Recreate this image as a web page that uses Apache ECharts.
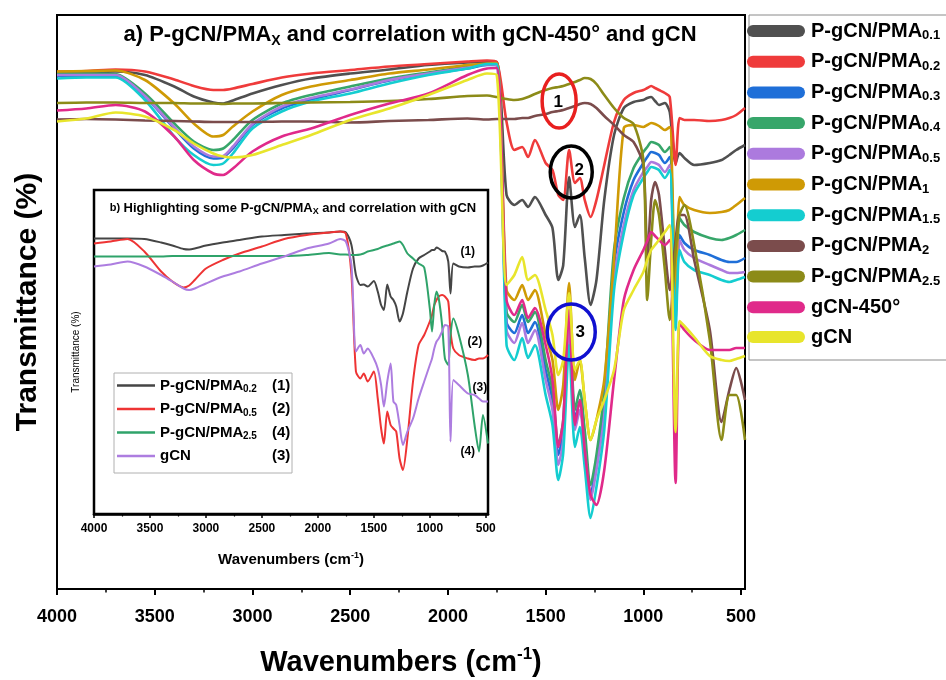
<!DOCTYPE html>
<html>
<head>
<meta charset="utf-8">
<script src="https://cdn.jsdelivr.net/npm/echarts@6/dist/echarts.min.js"></script>
<style>
html, body { margin: 0; padding: 0; background: #fff; }
#chart { width: 946px; height: 680px; }
</style>
</head>
<body>
<div id="chart"></div>
<script>
// Shared wavenumber grid (cm-1), high to low
const wavenumbers = [4000,3850,3700,3550,3400,3300,3200,3150,3100,3000,2850,2700,2500,2300,2100,1900,1800,
  1750,1700,1660,1620,1590,1555,1500,1465,1435,1410,1380,1350,1325,1300,1270,1240,1200,1150,1100,1050,
  1000,980,960,940,920,890,865,835,815,790,740,660,600,560,525,480];

// Main panel: transmittance (arbitrary offset units)
const pma01 = [103.1,103.3,103.5,102.8,100.5,98.5,97.3,97.1,97.7,99.1,100.8,102.1,103.1,103.9,104.8,105.3,105.4,
  105.4,78.8,76.8,77.8,76.4,78.4,74.8,72.2,61.8,64.8,82.4,72.4,74.8,66.2,56.8,61.8,77.8,90.8,96.2,97.4,
  97.8,98.2,98.4,97.6,96.8,97.2,95.4,85.2,87.2,86.2,84.8,85.2,85.8,86.8,87.8,88.8];
const pma02 = [103.5,103.6,103.9,103.5,101.9,100.6,99.8,99.8,100.1,101,102.3,103.1,103.8,104.5,105,105.5,105.7,
  105.4,93.4,87.8,88.4,86.4,89.8,85.2,83.8,78.8,77.8,87.8,81.2,82.2,77.8,74.4,77.8,84.8,93.4,97.8,99.2,
  99.8,100.2,100.6,100.2,99.8,99.2,98.4,84.8,94.2,93.8,93.8,93.6,93.8,94.2,94.8,96.2];
const pma03 = [102.6,102.6,102.6,98.5,92.1,88.1,86.1,86.3,88.1,92.8,96.1,97.9,99.8,101.7,103,104.1,104.8,
  104.8,53.4,51.2,54.8,51.2,53.4,43.8,37.8,26.8,31.8,53.4,33.8,37.8,29.8,18.8,25.4,37.8,64.8,75.4,81.8,
  85.2,86.4,87.4,87.2,86.8,85.2,86.4,54.8,70.8,69.2,67.8,66.8,65.8,65.4,65.4,66.2];
const pma04 = [103.1,103.1,103,99.1,93.1,89.5,87.8,88.1,89.8,93.8,97.1,98.8,100.5,102.1,103.3,104.5,105,
  105,55.4,53.4,56.8,53.4,55.4,45.8,39.8,28.8,33.8,55.4,35.8,39.8,31.8,20.8,26.8,39.8,67.8,78.2,84.2,
  87.4,88.4,89.4,89.2,88.8,87.4,88.4,56.8,74.2,72.8,71.4,70.2,69.8,70.2,70.8,71.8];
const pma05 = [102.8,102.8,102.8,98.6,92.3,88.5,86.5,86.6,88.5,93,96.5,98.2,99.9,101.8,103.1,104.3,104.9,
  104.8,51.8,49.2,53.2,49.2,51.8,41.8,35.8,24.8,29.8,51.8,31.8,35.8,27.8,17.8,23.8,34.8,61.8,72.8,79.8,
  83.4,84.4,85.4,85.2,84.8,83.4,84.8,53.8,69.8,67.8,66.2,64.8,63.8,63.2,63.2,63.4];
const pma1 = [103.5,103.6,103.7,101.8,97.1,93.1,90.5,90.8,92.5,95.5,98.8,100.5,101.8,103.1,103.9,104.8,105.1,
  105.2,59.8,57.8,60.8,57.8,59.8,50.8,45.8,35.8,40.8,61.2,41.8,45.8,37.8,29.8,33.8,41.8,65.8,92.2,92.8,
  92.4,92.8,93.2,93,92.6,91.8,92.4,57.8,78.4,76.8,75.8,75.2,75.4,75.8,76.8,78.2];
const pma15 = [102.1,102.3,102.3,97.8,90.5,86.8,84.8,85.1,87.1,92.1,95.5,97.5,99.1,101.1,102.8,104.1,105,
  105,48.8,45.8,50.2,46.2,48.8,38.8,32.8,21.8,27.2,48.8,28.4,32.4,24.4,14.2,20.4,31.8,59.8,71.2,78.8,
  82.2,83.4,84.4,84.2,83.8,82.2,83.8,51.8,67.8,65.4,63.8,62.8,61.8,61.4,61.8,62.4];
const pma2 = [93.9,94,93.9,93.7,93.6,93.5,93.4,93.4,93.4,93.4,93.5,93.5,93.3,93.6,93.8,94.1,93.9,
  94,94,94,94.2,94.2,94.6,95,95.4,95.6,95.8,96.2,96.6,97,97.2,97,96.2,94.6,92.8,90.8,89.4,
  84.8,65.8,77.8,81.4,78.8,67.8,59.8,69.8,74.8,74.8,65.8,51.8,33.4,39.8,44.2,37.8];
const pma25 = [97.2,97.3,97.3,97.2,97.2,97.1,97.1,97,97.1,97.1,97.2,97.3,97.4,97.6,98,98.6,98.7,
  98.4,98,97.8,98,98.4,99,99.8,100.2,100.4,100.6,101,101.4,101.8,102.2,102,101,98.8,96.2,94.2,93,
  85.8,57.8,69.8,77.8,74.8,63.8,53.8,67.8,74.8,76.8,68.8,49.8,29.8,38.8,38.8,29.8];
const gcn450 = [95.7,96.1,96.8,95.5,90.5,85.8,83.1,82.8,84.1,87.5,90.5,92.1,94.8,97.1,99.1,102.8,104.1,
  104.2,57.8,54.8,57.8,54.2,56.2,48.8,41.8,28.4,33.8,55.8,32.8,37.8,27.8,18.8,16.8,23.8,41.8,57.8,63.8,
  67.8,69.6,71.4,70.6,69.8,68.8,69.8,21.2,53.2,51.8,49.8,47.8,47.8,47.8,48.2,48.2];
const gcn = [93.5,94.1,95.3,94.5,91.8,89.1,87.1,86.5,86.3,86.8,88.8,90.8,93.8,96.1,98.8,101.8,103.1,
  102.8,60.8,62.8,66.4,61.8,62.8,55.8,50.8,42.8,45.8,59.2,43.8,45.8,37.8,29.8,33.8,37.8,43.8,55.8,59.8,
  63.4,65.8,67.8,68.8,69.8,71.4,72.8,31.4,53.6,52.6,50.4,46.6,45.8,45.6,46,46.6];

// Inset panel
const insetPma02 = [55.1,55.1,55.1,55.0,54.3,53.7,53.0,52.9,53.1,53.7,54.3,54.8,55.5,55.8,56.1,56.3,56.5,
  56.3,53.8,47.8,45.8,45.9,45.5,46.6,44.5,41.8,40.8,45.9,43.5,42.8,41.5,38.5,40.1,44.5,49.1,51.1,51.8,
  52.5,52.8,52.8,53.3,53.1,52.6,52.5,50.5,44.1,50.1,49.5,49.3,49.5,49.5,49.7,50.3];
const insetPma05 = [54.1,54.5,55.0,52.5,48.5,46.5,45.3,45.7,46.8,49.1,50.8,52.1,53.5,55.0,55.8,56.3,56.5,
  56.1,47.8,28.5,27.1,28.1,26.5,28.5,23.1,17.1,14.1,20.5,17.8,17.1,16.5,11.1,8.8,15.1,26.5,33.8,35.8,
  38.5,39.8,41.8,42.8,43.5,43.8,43.5,42.5,36.5,33.1,31.8,31.1,30.8,31.1,31.1,31.8];
const insetPma25 = [51.5,51.5,51.5,51.5,51.5,51.6,51.6,51.6,51.6,51.6,51.6,51.6,51.6,51.6,51.8,52.2,51.9,
  51.9,51.8,51.8,51.9,52.1,52.5,52.8,53.0,53.3,53.5,53.7,53.9,54.1,54.3,54.5,53.8,52.1,51.1,50.1,49.3,
  41.1,36.5,41.8,44.5,43.1,37.8,31.1,29.8,35.8,39.1,35.8,27.8,17.8,12.5,19.8,14.1];
const insetGcn = [49.5,49.9,50.5,49.5,47.8,46.5,45.1,44.8,45.1,46.1,47.5,48.5,50.1,51.5,53.1,54.1,55.0,
  54.5,49.8,32.5,33.8,32.1,33.1,31.1,29.1,25.8,21.5,26.5,30.1,22.5,21.8,17.8,13.8,16.5,19.1,23.1,26.5,
  29.8,31.1,33.1,34.5,35.1,36.5,37.8,37.5,14.5,26.8,25.8,24.1,23.8,23.1,22.5,22.5];

const majorTicks = [4000,3500,3000,2500,2000,1500,1000,500];
const minorTicks = [3750,3250,2750,2250,1750,1250,750];

const mainNames = ['P-gCN/PMA_0.1','P-gCN/PMA_0.2','P-gCN/PMA_0.3','P-gCN/PMA_0.4','P-gCN/PMA_0.5',
  'P-gCN/PMA_1','P-gCN/PMA_1.5','P-gCN/PMA_2','P-gCN/PMA_2.5','gCN-450°','gCN'];
const mainColors = ['#505050','#ef3b3b','#1f6fd8','#37a66a','#ac7ade','#cf9a05','#14cdd0','#7b4c4c','#8c8b18','#e02a8a','#e8e52c'];
const mainValues = [pma01,pma02,pma03,pma04,pma05,pma1,pma15,pma2,pma25,gcn450,gcn];

const insetNames = ['P-gCN/PMA_0.2 (1)','P-gCN/PMA_0.5 (2)','P-gCN/PMA_2.5 (4)','gCN (3)'];
const insetColors = ['#454545','#ee3434','#2fa36a','#ad7de0'];
const insetValues = [insetPma02,insetPma05,insetPma25,insetGcn];

const FONT = "'Liberation Sans', Arial, Helvetica, sans-serif";
const pairs = arr => wavenumbers.map((w, i) => [w, arr[i]]);
const plainNumber = v => String(v);

function richName(name) {
  const p = name.split('_');
  return p.length > 1 ? '{b|' + p[0] + '}{s|' + p[1] + '}' : '{b|' + name + '}';
}
function insetRich(name) {
  const m = name.match(/^(.*?)(?:_([\d.]+))? (\(\d\))$/);
  if (m[2]) return '{n|' + m[1] + '}{s|' + m[2] + '}{t|' + m[3] + '}';
  return '{g|' + m[1] + '}{t|' + m[3] + '}';
}

const series = [];
mainNames.forEach((n, i) => series.push({
  name: n, type: 'line', xAxisIndex: 0, yAxisIndex: 0, data: pairs(mainValues[i]),
  symbol: 'none', smooth: 0.25, color: mainColors[i],
  lineStyle: { width: 2.6, color: mainColors[i] }, emphasis: { disabled: true }, z: 2
}));
insetNames.forEach((n, i) => series.push({
  name: n, type: 'line', xAxisIndex: 2, yAxisIndex: 1, data: pairs(insetValues[i]),
  symbol: 'none', smooth: 0.25, color: insetColors[i],
  lineStyle: { width: 2, color: insetColors[i] }, emphasis: { disabled: true }, z: 4
}));

function xAxisBase(grid, extra) {
  return Object.assign({
    type: 'value', gridIndex: grid, min: 480, max: 4000, inverse: true,
    splitLine: { show: false }, position: 'bottom'
  }, extra);
}

const option = {
  animation: false,
  backgroundColor: '#fff',
  grid: [
    { left: 57, top: 15, width: 688, height: 574, outerBoundsMode: 'none', containLabel: false,
      show: true, borderColor: '#000', borderWidth: 2, backgroundColor: 'transparent' },
    { left: 94, top: 190, width: 394, height: 324, outerBoundsMode: 'none', containLabel: false,
      show: true, borderColor: '#000', borderWidth: 2.5, backgroundColor: '#fff' }
  ],
  xAxis: [
    xAxisBase(0, {
      axisLine: { lineStyle: { color: '#000', width: 2 } },
      axisTick: { customValues: majorTicks, length: 6, inside: false, lineStyle: { color: '#000', width: 2 } },
      axisLabel: { customValues: majorTicks, formatter: plainNumber, margin: 19, color: '#000', fontSize: 18, fontWeight: 'bold', fontFamily: FONT },
      name: '{b|Wavenumbers (cm}{sup|-1}{b|)}', nameLocation: 'middle', nameGap: 57,
      nameTextStyle: { rich: {
        b: { fontSize: 29, fontWeight: 'bold', color: '#000', fontFamily: FONT, lineHeight: 34 },
        sup: { fontSize: 17, fontWeight: 'bold', color: '#000', fontFamily: FONT, lineHeight: 34, verticalAlign: 'top', padding: [0, 0, 12, 0] }
      } }
    }),
    xAxisBase(0, {
      axisLine: { show: false }, axisLabel: { show: false },
      axisTick: { customValues: minorTicks, length: 3.5, inside: false, lineStyle: { color: '#000', width: 1.5 } }
    }),
    xAxisBase(1, {
      axisLine: { lineStyle: { color: '#000', width: 2.5 } },
      axisTick: { customValues: majorTicks, length: 4, inside: false, lineStyle: { color: '#000', width: 1.5 } },
      axisLabel: { customValues: majorTicks, formatter: plainNumber, margin: 9, color: '#000', fontSize: 12, fontWeight: 'bold', fontFamily: FONT },
      name: '{b|Wavenumbers (cm}{sup|-1}{b|)}', nameLocation: 'middle', nameGap: 37,
      nameTextStyle: { rich: {
        b: { fontSize: 15, fontWeight: 'bold', color: '#000', fontFamily: FONT, lineHeight: 18 },
        sup: { fontSize: 9, fontWeight: 'bold', color: '#000', fontFamily: FONT, lineHeight: 18, verticalAlign: 'top', padding: [0, 0, 6, 0] }
      } }
    }),
    xAxisBase(1, {
      axisLine: { show: false }, axisLabel: { show: false },
      axisTick: { customValues: minorTicks, length: 2.5, inside: false, lineStyle: { color: '#000', width: 1.2 } }
    })
  ],
  yAxis: [
    { type: 'value', gridIndex: 0, min: 0, max: 114.8,
      axisLine: { show: false }, axisTick: { show: false }, axisLabel: { show: false }, splitLine: { show: false },
      name: 'Transmittance (%)', nameLocation: 'middle', nameGap: 14, nameRotate: 90,
      nameTextStyle: { fontSize: 30, fontWeight: 'bold', color: '#000', fontFamily: FONT } },
    { type: 'value', gridIndex: 1, min: 0, max: 64.8,
      axisLine: { show: false }, axisTick: { show: false }, axisLabel: { show: false }, splitLine: { show: false },
      name: 'Transmittance (%)', nameLocation: 'middle', nameGap: 13, nameRotate: 90,
      nameTextStyle: { fontSize: 10, color: '#000', fontFamily: FONT } }
  ],
  legend: [
    { data: mainNames, orient: 'vertical', left: 747, top: 21, padding: 0,
      itemWidth: 58, itemHeight: 12, itemGap: 9.7, selectedMode: false,
      icon: 'path://M6,0 L52,0 A6,6 0 0 1 52,12 L6,12 A6,6 0 0 1 6,0 Z',
      formatter: richName,
      textStyle: { padding: [0, 0, 0, 1], rich: {
        b: { fontSize: 20, fontWeight: 'bold', color: '#000', fontFamily: FONT, lineHeight: 22 },
        s: { fontSize: 13, fontWeight: 'bold', color: '#000', fontFamily: FONT, lineHeight: 22, verticalAlign: 'bottom' }
      } } },
    { data: insetNames, orient: 'vertical', left: 117, top: 378, padding: 0,
      itemWidth: 38, itemHeight: 2.5, itemGap: 7, selectedMode: false, icon: 'rect',
      formatter: insetRich,
      textStyle: { rich: {
        n: { fontSize: 15, fontWeight: 'bold', color: '#000', fontFamily: FONT, lineHeight: 18, width: 83 },
        s: { fontSize: 10, fontWeight: 'bold', color: '#000', fontFamily: FONT, lineHeight: 18, verticalAlign: 'bottom', width: 29 },
        g: { fontSize: 15, fontWeight: 'bold', color: '#000', fontFamily: FONT, lineHeight: 18, width: 112 },
        t: { fontSize: 15, fontWeight: 'bold', color: '#000', fontFamily: FONT, lineHeight: 18 }
      } } }
  ],
  series: series
};

const chart = echarts.init(document.getElementById('chart'));
chart.setOption(option);

// Annotations placed in data coordinates
const mainPt = (w, v) => chart.convertToPixel({ xAxisIndex: 0, yAxisIndex: 0 }, [w, v]);
const insetPt = (w, v) => chart.convertToPixel({ xAxisIndex: 2, yAxisIndex: 1 }, [w, v]);

const bandMarks = [
  { w: 1431, v: 97.6, rx: 17, ry: 27, color: '#e8201f', label: '1', lw: 1436, lv: 97.4 },
  { w: 1369, v: 83.4, rx: 21, ry: 26, color: '#000000', label: '2', lw: 1328, lv: 83.8 },
  { w: 1369, v: 51.4, rx: 24, ry: 28, color: '#1010d0', label: '3', lw: 1323, lv: 51.4 }
];
const insetTags = [
  { w: 661, v: 52.4, text: '(1)' },
  { w: 598, v: 34.4, text: '(2)' },
  { w: 553, v: 25.2, text: '(3)' },
  { w: 661, v: 12.4, text: '(4)' }
];

const graphics = [
  { type: 'rect', shape: { x: 749, y: 15, width: 210, height: 345 }, style: { fill: 'none', stroke: '#8a8a8a', lineWidth: 1 }, z: 0 },
  { type: 'rect', shape: { x: 114, y: 373, width: 178, height: 100 }, style: { fill: 'none', stroke: '#b0b0b0', lineWidth: 1 }, z: 10 },
  { type: 'text', x: 410, y: 35, z: 10, style: {
      text: '{b|a) P-gCN/PMA}{s|X}{b| and correlation with gCN-450° and gCN}', align: 'center', verticalAlign: 'middle',
      rich: {
        b: { fontSize: 22, fontWeight: 'bold', fill: '#000', fontFamily: FONT, lineHeight: 26 },
        s: { fontSize: 14, fontWeight: 'bold', fill: '#000', fontFamily: FONT, lineHeight: 26, verticalAlign: 'bottom' }
      } } },
  { type: 'text', x: 293, y: 208, z: 10, style: {
      text: '{a|b)} {b|Highlighting some P-gCN/PMA}{s|X}{b| and correlation with gCN}', align: 'center', verticalAlign: 'middle',
      rich: {
        a: { fontSize: 11, fontWeight: 'bold', fill: '#000', fontFamily: FONT, lineHeight: 16 },
        b: { fontSize: 13, fontWeight: 'bold', fill: '#000', fontFamily: FONT, lineHeight: 16 },
        s: { fontSize: 9, fontWeight: 'bold', fill: '#000', fontFamily: FONT, lineHeight: 16, verticalAlign: 'bottom' }
      } } }
];
bandMarks.forEach(m => {
  const c = mainPt(m.w, m.v);
  const t = mainPt(m.lw, m.lv);
  graphics.push({ type: 'ellipse', z: 20, shape: { cx: c[0], cy: c[1], rx: m.rx, ry: m.ry },
    style: { fill: 'none', stroke: m.color, lineWidth: 3.5 } });
  graphics.push({ type: 'text', z: 21, x: t[0], y: t[1], style: { text: m.label, align: 'center', verticalAlign: 'middle',
    font: 'bold 17px ' + FONT, fill: '#000' } });
});
insetTags.forEach(tg => {
  const p = insetPt(tg.w, tg.v);
  graphics.push({ type: 'text', z: 21, x: p[0], y: p[1], style: { text: tg.text, align: 'center', verticalAlign: 'middle',
    font: 'bold 12px ' + FONT, fill: '#000' } });
});
chart.setOption({ graphic: graphics });
</script>
</body>
</html>
